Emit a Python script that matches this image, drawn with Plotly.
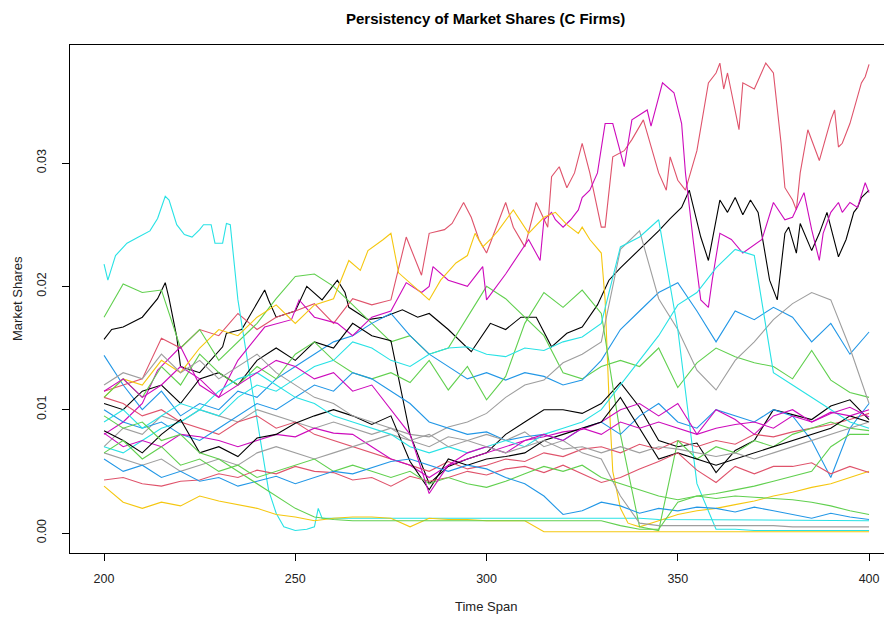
import plotly.graph_objects as go

# common time axis (sampled every 5 periods)
time_span = list(range(200, 401, 5))

# ---- prominent firms, read at finer time points (shares in thousandths) ----
r1_time = [200, 205, 210, 215, 220, 225, 230, 235, 240, 245, 250, 255, 260, 265, 270,
           275, 279, 283, 285, 289, 291, 294, 296, 298, 300, 305, 307, 310, 313, 316,
           317, 319, 321, 323, 325, 327, 330, 331, 333, 336, 338, 341, 345, 347, 348,
           350, 352, 355, 358, 360, 361, 362, 363, 366, 367, 370, 373, 375, 377, 378,
           380, 381, 382, 384, 385, 387, 390, 391, 392, 393, 395, 398, 399, 400]
firm_r1 = [11.5, 12.0, 12.5, 15.8, 15.0, 16.5, 16.0, 17.8, 16.5, 17.5, 18.0, 18.6, 17.0, 19.0, 18.5,
           18.9, 24.0, 20.9, 24.3, 24.6, 25.1, 26.8, 25.6, 23.8, 22.7, 26.8, 24.8, 23.2, 26.8, 24.8,
           28.9, 29.7, 28.0, 29.2, 31.6, 29.2, 24.8, 24.8, 30.5, 31.0, 31.9, 33.5, 29.2, 27.8, 30.5,
           28.6, 27.8, 31.0, 36.5, 37.3, 38.1, 36.0, 37.3, 32.7, 36.5, 36.0, 38.1, 37.3, 31.6, 28.0,
           27.0, 26.2, 29.2, 32.7, 31.9, 30.2, 33.5, 34.3, 31.3, 31.6, 33.2, 36.5, 37.0, 38.0]

m1_time = [200, 205, 210, 214, 220, 225, 230, 235, 242, 249, 251, 255, 261, 265, 270,
           275, 279, 283, 285, 286, 290, 295, 299, 300, 305, 311, 314, 315, 317, 318,
           320, 322, 324, 325, 327, 329, 331, 333, 336, 338, 342, 343, 346, 349, 351,
           352, 354, 356, 358, 359, 361, 364, 367, 372, 375, 378, 380, 383, 385, 387,
           388, 390, 392, 393, 395, 397, 399, 400]
firm_m1 = [8.0, 9.0, 10.5, 13.2, 15.1, 12.0, 11.0, 14.0, 16.7, 17.3, 18.9, 17.5, 17.0, 16.0, 17.5,
           18.0, 20.3, 19.5, 20.0, 21.6, 20.5, 20.0, 21.6, 18.9, 21.0, 23.8, 22.1, 25.4, 26.0, 25.4,
           24.8, 25.4, 26.2, 27.2, 27.8, 29.2, 33.2, 33.2, 29.7, 33.5, 34.3, 33.0, 36.5, 35.7, 33.2,
           29.2, 23.8, 18.9, 18.3, 20.5, 24.3, 23.8, 22.7, 23.8, 26.8, 25.4, 25.6, 27.6, 24.6, 22.1,
           24.3, 26.0, 26.8, 26.0, 26.8, 26.4, 28.4, 27.6]

k1_time = [200, 202, 205, 210, 214, 216, 217, 219, 220, 225, 231, 232, 236, 242, 243,
           245, 250, 253, 257, 261, 263, 264, 269, 273, 278, 282, 285, 290, 296, 301,
           305, 309, 313, 317, 321, 325, 329, 332, 335, 340, 345, 348, 351, 353, 356,
           358, 361, 363, 365, 367, 369, 371, 374, 376, 378, 379, 381, 382, 385, 387,
           389, 392, 394, 396, 397, 398, 400]
firm_k1 = [15.7, 16.5, 16.7, 17.5, 19.0, 20.3, 19.0, 15.9, 13.5, 13.0, 15.1, 16.2, 16.5, 19.7, 18.9,
           17.5, 18.0, 20.0, 18.9, 20.5, 19.5, 18.3, 17.3, 17.5, 18.1, 17.5, 17.8, 16.5, 14.7, 17.0,
           16.5, 17.5, 17.5, 15.1, 16.2, 16.7, 18.5, 20.5, 21.5, 23.0, 24.5, 25.5, 26.4, 27.8, 24.0,
           22.1, 27.0, 26.0, 27.2, 25.8, 27.0, 26.0, 20.5, 18.9, 24.3, 24.8, 22.7, 25.1, 22.9, 24.3,
           26.0, 22.4, 23.8, 26.0, 26.4, 27.2, 27.8]

c1_time = [200, 201, 203, 206, 209, 212, 214, 216, 217, 219, 221, 223, 225, 226, 228,
           229, 231, 232, 233, 235, 238, 241, 243, 245, 247, 250, 253, 255, 256, 257,
           260, 300, 340, 345, 400]
firm_c1 = [21.8, 20.5, 22.5, 23.5, 24.0, 24.5, 25.5, 27.3, 27.0, 25.0, 24.2, 24.0, 24.6, 25.0, 25.0,
           23.5, 23.5, 25.1, 25.0, 18.9, 13.0, 7.5, 3.5, 1.6, 0.5, 0.2, 0.3, 0.5, 2.0, 1.2,
           1.2, 1.2, 1.2, 1.1, 1.0]

y1_time = [200, 205, 210, 215, 220, 225, 230, 235, 240, 245, 250, 255, 260, 264, 267,
           269, 273, 275, 277, 281, 285, 288, 292, 295, 297, 299, 301, 303, 307, 311,
           315, 318, 321, 324, 325, 327, 330, 331, 332, 333, 335, 337, 340, 345, 350,
           355, 360, 365, 370, 375, 380, 385, 390, 395, 400]
firm_y1 = [11.0, 12.5, 12.0, 14.0, 13.0, 15.0, 16.5, 16.0, 17.5, 18.5, 17.0, 18.5, 19.0, 22.1, 21.3,
           22.9, 23.8, 24.3, 21.1, 20.0, 18.9, 20.5, 21.9, 22.5, 24.3, 23.2, 23.8, 24.5, 26.2, 24.3,
           25.6, 26.0, 25.0, 24.3, 24.8, 23.8, 22.7, 18.9, 11.0, 5.0, 2.0, 0.8, 0.5, 1.0, 1.5,
           1.8, 2.0, 2.3, 2.6, 3.0, 3.3, 3.7, 4.0, 4.5, 5.0]

# ---- remaining firms, read every 5 periods (shares in thousandths) ----
firm_g1 = [17.5, 20.2, 19.5, 19.7, 15.0, 16.5, 14.0, 15.5, 17.0, 19.0,
           20.8, 21.0, 20.0, 18.5, 17.0, 15.5, 16.0, 14.5, 15.0, 17.5,
           20.0, 19.0, 17.5, 16.0, 13.0, 12.5, 13.5, 14.0, 13.5, 15.0,
           11.8, 13.8, 15.0, 14.3, 13.8, 13.5, 12.5, 14.8, 12.4, 11.4,
           11.0]
firm_b1 = [14.4, 12.0, 10.0, 11.5, 9.5, 10.5, 10.0, 11.5, 11.0, 12.5,
           13.5, 14.5, 15.5, 16.0, 17.0, 17.8, 16.0, 14.5, 13.5, 12.5,
           13.0, 12.4, 13.0, 12.7, 12.0, 12.4, 14.0, 16.5, 18.0, 19.5,
           20.3, 18.0, 15.5, 18.0, 17.3, 18.3, 17.5, 15.5, 17.0, 14.5,
           16.3]
firm_gr1 = [7.0, 8.5, 8.0, 9.5, 9.0, 10.0, 9.5, 9.0, 10.0, 9.5,
            9.0, 8.5, 9.0, 8.5, 8.0, 8.5, 8.0, 7.8, 8.6, 9.0,
            9.7, 11.0, 12.0, 12.4, 13.8, 14.5, 15.5, 23.0, 24.5, 19.0,
            16.5, 13.2, 11.6, 14.0, 15.5, 17.3, 18.6, 19.5, 18.9, 15.0,
            10.5]
firm_k2 = [10.5, 10.0, 11.5, 12.0, 10.5, 12.5, 13.0, 12.0, 14.0, 15.0,
           14.0, 15.5, 15.0, 17.0, 16.0, 15.6, 8.0, 4.0, 5.4, 6.0,
           6.5, 8.0, 9.0, 10.0, 10.0, 9.7, 10.5, 12.2, 10.2, 7.5,
           7.0, 7.3, 4.9, 6.7, 7.5, 10.0, 9.6, 9.2, 10.3, 10.8,
           9.2]
firm_r2 = [11.0, 10.5, 9.5, 10.0, 9.0, 8.5, 8.0, 9.0, 9.5, 8.5,
           9.0, 8.0, 7.5, 7.0, 6.5, 6.0, 5.5, 5.0, 5.8, 5.2,
           5.5, 6.0, 5.8, 6.5, 6.2, 6.8, 7.0, 6.5, 7.2, 6.8,
           7.5, 7.0, 7.5, 7.2, 8.0, 7.8, 8.2, 8.5, 8.8, 9.2,
           9.7]
firm_g2 = [11.0, 12.5, 11.0, 13.5, 12.0, 14.5, 13.0, 12.0, 13.5, 12.5,
           14.5, 15.5, 14.0, 13.0, 12.5, 13.0, 12.2, 14.0, 11.6, 13.5,
           10.8, 12.7, 17.0, 19.5, 18.3, 19.7, 17.8, 8.0, 0.5, 0.2,
           7.5, 6.0, 7.0, 6.5, 7.5, 7.0, 8.0, 8.5, 9.0, 8.5,
           8.3]
firm_b2 = [10.0, 9.0, 8.5, 9.0, 8.0, 7.5, 8.5, 9.5, 10.5, 10.0,
           11.0, 12.0, 11.5, 13.0, 12.5, 11.5, 10.5, 9.0, 8.5, 8.0,
           8.2, 7.5, 7.8, 8.0, 7.5, 8.5, 9.0, 8.0, 9.5, 10.5,
           9.0, 8.5, 10.0, 9.5, 9.0, 10.0, 9.5, 7.5, 4.5, 8.5,
           10.5]
firm_c2 = [7.0, 6.5, 7.5, 8.5, 9.0, 10.0, 9.5, 11.0, 12.0, 11.5,
           12.5, 13.5, 14.0, 15.5, 15.0, 14.0, 13.5, 14.5, 15.0, 15.1,
           14.5, 14.3, 15.0, 14.8, 15.5, 15.9, 17.0, 23.2, 24.0, 25.4,
           16.5, 4.0, 0.3, 0.3, 0.2, 0.2, 0.2, 0.2, 0.2, 0.2,
           0.2]
firm_m2 = [8.1, 7.0, 7.5, 7.0, 8.0, 7.8, 7.5, 7.0, 7.5, 8.0,
           7.8, 8.5, 8.1, 8.0, 7.0, 6.0, 5.5, 4.5, 5.5, 6.0,
           6.5, 7.0, 7.5, 7.8, 8.2, 8.4, 9.0, 10.0, 10.5, 9.5,
           10.5, 8.0, 10.0, 9.2, 8.0, 9.5, 10.0, 9.0, 9.7, 10.2,
           9.4]
firm_y2 = [3.8, 2.5, 2.0, 2.5, 2.2, 3.0, 2.6, 2.3, 2.0, 1.5,
           1.3, 1.0, 1.2, 1.3, 1.3, 1.2, 0.5, 1.2, 1.1, 1.1,
           1.0, 1.0, 1.0, 0.1, 0.1, 0.1, 0.1, 0.1, 0.1, 0.1,
           0.1, 0.1, 0.1, 0.1, 0.1, 0.1, 0.1, 0.1, 0.1, 0.1,
           0.1]
firm_gr2 = [6.5, 6.0, 5.5, 6.0, 5.0, 5.5, 6.0, 5.5, 6.5, 7.0,
            6.5, 6.0, 6.5, 7.0, 7.5, 8.0, 7.5, 7.0, 7.8, 7.5,
            8.0, 7.5, 8.2, 7.0, 7.5, 6.5, 6.0, 3.0, 0.8, 0.6,
            0.6, 0.6, 0.6, 0.6, 0.6, 0.6, 0.5, 0.5, 0.5, 0.5,
            0.5]
firm_k3 = [8.3, 7.5, 6.5, 8.0, 9.2, 6.5, 7.0, 6.2, 7.7, 8.0,
           8.9, 9.5, 10.0, 9.5, 8.8, 9.5, 5.8, 3.5, 6.0, 5.5,
           6.0, 6.2, 6.5, 7.5, 8.0, 8.5, 9.0, 11.0, 8.5, 6.0,
           6.5, 6.0, 5.5, 6.0, 6.5, 7.0, 7.5, 8.0, 8.5, 9.5,
           9.0]
firm_r3 = [4.3, 4.5, 4.0, 3.8, 4.2, 4.3, 4.8, 4.5, 5.1, 4.8,
           5.4, 5.0, 4.9, 4.3, 4.5, 3.8, 4.6, 4.2, 4.5, 5.0,
           4.7, 5.2, 5.4, 4.9, 5.5, 4.8, 4.1, 4.5, 5.2, 5.8,
           6.5, 5.1, 4.1, 5.4, 4.8, 5.4, 5.4, 5.7, 4.8, 5.4,
           4.9]
firm_g3 = [6.5, 7.5, 6.0, 7.0, 5.5, 6.0, 5.0, 5.5, 4.5, 5.0,
           5.5, 6.0, 5.0, 5.5, 5.0, 4.5, 5.0, 4.0, 4.5, 4.0,
           3.7, 4.2, 4.8, 5.4, 5.0, 5.5, 4.5, 4.0, 3.5, 3.0,
           2.7, 3.0, 2.8, 3.0, 2.9, 2.8, 2.7, 2.5, 2.2, 1.8,
           1.5]
firm_b3 = [6.0, 5.0, 5.5, 4.5, 5.0, 4.2, 4.5, 3.8, 4.2, 4.6,
           4.0, 4.5, 5.0, 4.8, 5.3, 5.8, 6.0, 5.5, 5.0, 5.5,
           5.2, 4.5, 4.0, 3.0, 1.5, 1.8, 2.5, 2.2, 1.6, 2.0,
           1.8, 2.1, 2.0, 1.7, 2.1, 1.8, 1.5, 1.2, 1.6, 1.3,
           1.1]
firm_c3 = [9.0, 10.0, 8.5, 9.5, 10.5, 10.0, 11.5, 12.5, 13.0, 12.0,
           11.0, 10.5, 9.5, 9.0, 8.5, 8.0, 7.0, 6.5, 7.0, 6.5,
           7.0, 7.5, 7.0, 8.0, 8.5, 9.0, 10.0, 12.0, 14.0, 16.0,
           18.5, 19.5, 21.5, 23.0, 22.5, 13.0, 12.0, 11.0, 10.0, 9.0,
           8.5]
firm_m3 = [11.5, 12.5, 11.0, 12.0, 13.5, 12.5, 11.0, 12.0, 13.0, 14.0,
           13.5, 12.5, 13.0, 11.5, 12.0, 10.0, 8.0, 3.2, 5.5, 6.5,
           7.0, 6.5, 7.5, 8.0, 7.5, 8.5, 8.0, 9.0, 8.5, 9.0,
           8.5, 8.0, 8.5, 8.8, 9.0, 8.5, 9.5, 9.0, 9.8, 9.5,
           10.0]
firm_g4 = [9.5, 8.5, 9.0, 7.5, 8.0, 6.5, 6.0, 5.0, 4.0, 3.0,
           2.0, 1.3, 1.1, 1.0, 1.0, 1.0, 1.0, 1.0, 1.0, 1.0,
           1.0, 1.0, 1.0, 1.0, 1.0, 1.0, 1.0, 0.6, 0.3, 0.3,
           2.5, 3.0, 3.2, 3.5, 3.8, 4.2, 4.6, 5.0, 7.0, 8.0,
           8.0]
firm_gr3 = [12.0, 13.0, 12.5, 14.5, 13.0, 14.0, 12.5, 13.5, 14.5, 13.0,
            12.0, 11.0, 10.5, 9.5, 9.0, 8.5, 7.5, 8.0, 7.0, 7.5,
            7.0, 6.5, 7.0, 7.5, 6.8, 7.0, 6.5, 7.0, 6.5, 7.0,
            6.8, 6.5, 6.2, 6.5, 6.0, 6.5, 7.0, 7.5, 8.0, 8.5,
            9.0]

x_ticks = [200, 250, 300, 350, 400]
y_ticks = [0.0, 0.01, 0.02, 0.03]
y_tick_labels = ["0.00", "0.01", "0.02", "0.03"]

BLACK, RED, GREEN, BLUE = "#000000", "#DF536B", "#61D04F", "#2297E6"
CYAN, MAGENTA, YELLOW, GRAY = "#28E2E5", "#CD0BBC", "#F5C710", "#9E9E9E"

series = [
    (k1_time, firm_k1, BLACK), (r1_time, firm_r1, RED), (time_span, firm_g1, GREEN),
    (time_span, firm_b1, BLUE), (c1_time, firm_c1, CYAN), (m1_time, firm_m1, MAGENTA),
    (y1_time, firm_y1, YELLOW), (time_span, firm_gr1, GRAY),
    (time_span, firm_k2, BLACK), (time_span, firm_r2, RED), (time_span, firm_g2, GREEN),
    (time_span, firm_b2, BLUE), (time_span, firm_c2, CYAN), (time_span, firm_m2, MAGENTA),
    (time_span, firm_y2, YELLOW), (time_span, firm_gr2, GRAY),
    (time_span, firm_k3, BLACK), (time_span, firm_r3, RED), (time_span, firm_g3, GREEN),
    (time_span, firm_b3, BLUE), (time_span, firm_c3, CYAN), (time_span, firm_m3, MAGENTA),
    (time_span, firm_g4, GREEN), (time_span, firm_gr3, GRAY),
]

FONT = "Liberation Sans, Arial, sans-serif"

fig = go.Figure()
for xs, vals, col in series:
    fig.add_trace(go.Scatter(
        x=xs, y=[v / 1000.0 for v in vals], mode="lines",
        line=dict(color=col, width=1.1), showlegend=False, hoverinfo="skip"))

# the page body adds an 8px offset; the figure is sized so the plot box
# lands where the reference draws it
fig.update_layout(
    width=884, height=611,
    margin=dict(l=62, r=0, t=37, b=66, autoexpand=False),
    paper_bgcolor="white", plot_bgcolor="white",
    font=dict(family=FONT, size=13, color="#222222"),
    showlegend=False,
    xaxis=dict(range=[191.1, 406.0], tickvals=x_ticks, ticks="outside", ticklen=7,
               tickcolor="black", showgrid=False, zeroline=False, showline=True,
               linecolor="black", linewidth=1, mirror=True, automargin=False,
               ticklabelstandoff=7, tickfont=dict(size=12.5, family=FONT)),
    yaxis=dict(range=[-0.00162, 0.03957], tickvals=y_ticks, ticktext=y_tick_labels,
               ticks="outside", ticklen=7, tickcolor="black", tickangle=-90,
               showgrid=False, zeroline=False, showline=True, linecolor="black",
               linewidth=1, mirror=True, ticklabelstandoff=11, automargin=False,
               tickfont=dict(size=12.5, family=FONT)),
    annotations=[
        dict(text="<b>Persistency of Market Shares (C Firms)</b>", xref="paper", yref="paper",
             x=(485 - 70) / 822, y=1 + (45 - 18) / 508, xanchor="center", yanchor="middle",
             showarrow=False, font=dict(size=15, family=FONT, color="black")),
        dict(text="Time Span", xref="paper", yref="paper",
             x=(486 - 70) / 822, y=-(606 - 553) / 508, xanchor="center", yanchor="middle",
             showarrow=False, font=dict(size=13, family=FONT, color="#222222")),
        dict(text="Market Shares", xref="paper", yref="paper",
             x=-(70 - 17.5) / 822, y=(553 - 298.5) / 508, xanchor="center", yanchor="middle",
             textangle=-90, showarrow=False, font=dict(size=13, family=FONT, color="#222222")),
    ],
)

fig.write_html("out.html")
